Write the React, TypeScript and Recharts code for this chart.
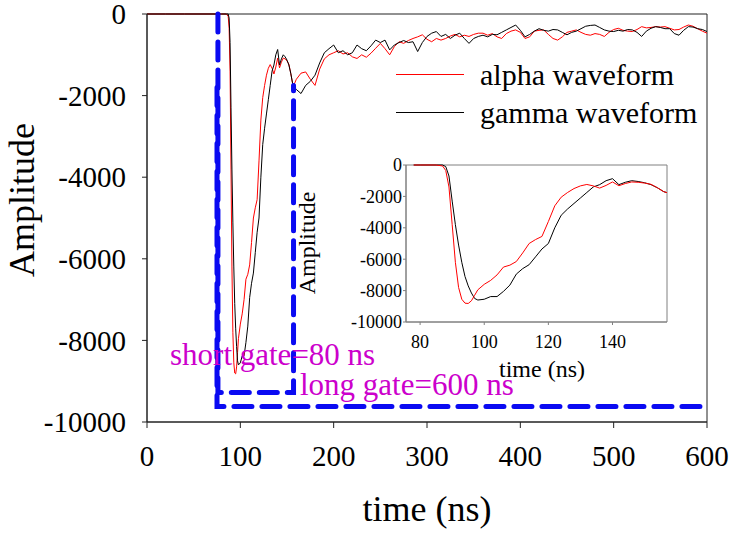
import React from 'react';
import { LineChart, Line, XAxis, YAxis, ReferenceArea, Legend } from 'recharts';

// pulse region (ns) and amplitudes
const peakTime = [0, 20, 40, 60, 78, 80, 85, 87, 88, 89, 90, 91, 92, 93, 94, 95, 96, 97, 98,
  100, 102, 104, 106, 108, 110, 112, 114, 116, 118, 120, 122, 124, 126, 128, 130, 132, 134, 136, 138,
  140, 142, 144, 146, 148, 150, 152, 154, 156, 157];
const alphaPeak = [0, 0, 0, 0, 0, 0, 0, -60, -350, -1400, -3800, -6200, -7800, -8550, -8800, -8820, -8650, -8300, -7950,
  -7600, -7350, -7000, -6500, -6380, -6150, -5600, -5000, -4750, -4550, -3600, -2600, -2050, -1750, -1500, -1330, -1240, -1330, -1470, -1300,
  -1080, -1320, -1180, -1080, -1100, -1150, -1230, -1450, -1700, -1760];
const gammaPeak = [0, 0, 0, 0, 0, 0, 0, 0, -100, -700, -2300, -3800, -5100, -6200, -7100, -7700, -8150, -8500, -8600,
  -8550, -8380, -8380, -8050, -7650, -6950, -6600, -6350, -5850, -5350, -5000, -4000, -3200, -2800, -2450, -2100, -1750, -1400, -1250, -1000,
  -870, -1250, -1100, -1000, -1050, -1130, -1250, -1450, -1700, -1760];

// tail region
const tailTime = [160, 165, 170, 175, 180, 185, 190, 195, 200, 205, 210, 215, 220, 225, 230, 235, 240, 245, 250, 255,
  260, 265, 270, 275, 280, 285, 290, 295, 300, 305, 310, 315, 320, 325, 330, 335, 340, 345, 350, 355,
  360, 365, 370, 375, 380, 385, 390, 395, 400, 405, 410, 415, 420, 425, 430, 435, 440, 445, 450, 455,
  460, 465, 470, 475, 480, 485, 490, 495, 500, 505, 510, 515, 520, 525, 530, 535, 540, 545, 550, 555,
  560, 565, 570, 575, 580, 585, 590, 595, 600];
const alphaTail = [-1600, -1450, -1420, -1600, -1750, -1350, -1100, -1000, -950, -900, -980, -950, -1050, -1090, -1000, -1060, -960, -840, -720, -850,
  -1000, -800, -680, -720, -650, -600, -560, -510, -620, -680, -600, -640, -600, -540, -500, -560, -520, -550, -500, -470,
  -470, -520, -480, -560, -600, -480, -420, -390, -450, -600, -560, -420, -400, -390, -500, -600, -640, -560, -450, -420,
  -390, -450, -500, -520, -480, -500, -550, -450, -380, -350, -400, -420, -430, -380, -310, -340, -330, -310, -320, -310,
  -350, -390, -380, -320, -270, -300, -360, -420, -470];
const gammaTail = [-1850, -1950, -1750, -1650, -1500, -1200, -950, -850, -760, -950, -900, -1000, -950, -760, -850, -900, -780, -640, -700, -640,
  -880, -760, -700, -650, -700, -680, -920, -700, -550, -470, -430, -550, -500, -600, -520, -470, -600, -720, -600, -550,
  -520, -560, -500, -510, -450, -390, -330, -270, -400, -560, -500, -420, -360, -400, -420, -380, -390, -450, -510, -450,
  -420, -360, -300, -280, -270, -330, -390, -420, -430, -400, -420, -380, -390, -450, -550, -420, -350, -310, -330, -360,
  -360, -480, -520, -400, -310, -320, -360, -380, -430];

// integration gates
const shortGateTime = [76, 76, 157, 157];
const shortGateAmp = [0, -9280, -9280, -1750];
const longGateTime = [75, 75, 600];
const longGateAmp = [-1800, -9620, -9620];

const mainXTicks = [0, 100, 200, 300, 400, 500, 600];
const mainYTicks = [0, -2000, -4000, -6000, -8000, -10000];
const insetXTicks = [80, 100, 120, 140];

const allTime = [...peakTime, ...tailTime];
const allAlpha = [...alphaPeak, ...alphaTail];
const allGamma = [...gammaPeak, ...gammaTail];
const data = allTime.map((t, i) => ({ t, alpha: allAlpha[i], gamma: allGamma[i] }));
const insetData = data.filter((d) => d.t >= 78 && d.t <= 157);
const shortGate = shortGateTime.map((t, i) => ({ t, a: shortGateAmp[i] }));
const longGate = longGateTime.map((t, i) => ({ t, a: longGateAmp[i] }));

const serif = '"Liberation Serif", "Times New Roman", serif';
const gateBlue = '#0a0af2';
const magenta = '#cc00cc';

const LegendBox = () => (
  <div style={{ fontFamily: serif, fontSize: 30, color: '#000' }}>
    {[
      { name: 'alpha waveform', color: '#ff0000' },
      { name: 'gamma waveform', color: '#000000' },
    ].map((item) => (
      <div key={item.name} style={{ height: 38, position: 'relative', whiteSpace: 'nowrap' }}>
        <svg width={70} height={38} style={{ position: 'absolute', left: 0, top: 0 }}>
          <line x1={1} x2={69} y1={18.5} y2={18.5} stroke={item.color} strokeWidth={1} />
        </svg>
        <span style={{ position: 'absolute', left: 85, top: 0, lineHeight: '38px' }}>{item.name}</span>
      </div>
    ))}
  </div>
);

export default function App() {
  return (
    <div style={{ position: 'absolute', left: 0, top: 0, width: 731, height: 533, background: '#fff' }}>
      <LineChart width={731} height={533} data={data} margin={{ top: 14, right: 24, bottom: 0, left: 0 }}>
        <XAxis
          dataKey="t"
          type="number"
          domain={[0, 600]}
          ticks={mainXTicks}
          interval={0}
          height={111}
          tickSize={6}
          tickMargin={17}
          stroke="#222"
          tick={{ fill: '#000', fontSize: 29, fontFamily: serif }}
        />
        <YAxis
          type="number"
          domain={[-10000, 0]}
          ticks={mainYTicks}
          interval={0}
          width={147}
          tickSize={5}
          tickMargin={16}
          stroke="#222"
          tick={{ fill: '#000', fontSize: 29, fontFamily: serif }}
        />
        <ReferenceArea x1={0} x2={600} y1={-10000} y2={0} fill="none" stroke="#222" strokeWidth={1} />
        <Line dataKey="alpha" name="alpha waveform" stroke="#ff0000" strokeWidth={1} dot={false} isAnimationActive={false} />
        <Line dataKey="gamma" name="gamma waveform" stroke="#000000" strokeWidth={1} dot={false} isAnimationActive={false} />
        <Line data={shortGate} dataKey="a" legendType="none" stroke={gateBlue} strokeWidth={5} strokeDasharray="18 10" strokeLinecap="round" dot={false} isAnimationActive={false} />
        <Line data={longGate} dataKey="a" legendType="none" stroke={gateBlue} strokeWidth={5} strokeDasharray="18 10" strokeLinecap="round" dot={false} isAnimationActive={false} />
        <Legend
          layout="vertical"
          align="center"
          verticalAlign="middle"
          content={() => <LegendBox />}
          wrapperStyle={{ left: 395, top: 56, width: 330, height: 80 }}
        />
      </LineChart>

      <div style={{ position: 'absolute', left: 346, top: 155 }}>
        <LineChart width={331} height={197} data={insetData} margin={{ top: 10, right: 10, bottom: 0, left: 0 }}>
          <XAxis
            dataKey="t"
            type="number"
            domain={[75.6, 157]}
            allowDataOverflow
            ticks={insetXTicks}
            interval={0}
            height={30}
            tickSize={3}
            tickMargin={10}
            stroke="#808080"
            tick={{ fill: '#000', fontSize: 18, fontFamily: serif }}
          />
          <YAxis
            type="number"
            domain={[-10000, 0]}
            ticks={mainYTicks}
            interval={0}
            width={60}
            tickSize={3}
            tickMargin={1}
            stroke="#808080"
            tick={{ fill: '#000', fontSize: 18, fontFamily: serif }}
          />
          <ReferenceArea x1={75.6} x2={157} y1={-10000} y2={0} fill="none" stroke="#808080" strokeWidth={1} />
          <Line dataKey="gamma" stroke="#000000" strokeWidth={1} dot={false} isAnimationActive={false} />
          <Line dataKey="alpha" stroke="#ff0000" strokeWidth={1} dot={false} isAnimationActive={false} />
        </LineChart>
      </div>

      <svg width={731} height={533} style={{ position: 'absolute', left: 0, top: 0, pointerEvents: 'none' }}>
        <g fontFamily={serif}>
          <text x={427} y={521} fontSize={36} textAnchor="middle" fill="#000">time (ns)</text>
          <text x={34} y={200} fontSize={36} textAnchor="middle" fill="#000" transform="rotate(-90 34 200)">Amplitude</text>
          <text x={542} y={377} fontSize={24} textAnchor="middle" fill="#000">time (ns)</text>
          <text x={315} y={243} fontSize={24} textAnchor="middle" fill="#000" transform="rotate(-90 315 243)">Amplitude</text>
          <text x={170} y={365} fontSize={31} fill={magenta}>short gate=80 ns</text>
          <text x={300} y={395} fontSize={31} fill={magenta}>long gate=600 ns</text>
        </g>
      </svg>
    </div>
  );
}
